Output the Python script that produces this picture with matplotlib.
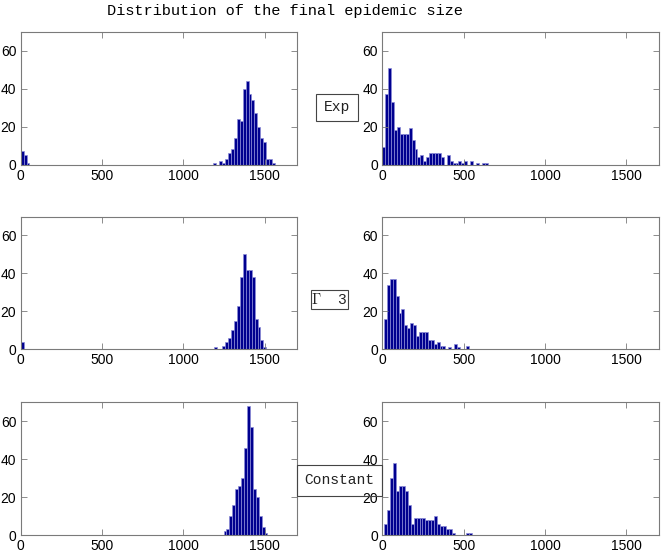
import matplotlib.pyplot as plt
import numpy as np
from matplotlib.patches import Rectangle

plt.rcParams['font.family'] = ['Liberation Sans', 'DejaVu Sans']
plt.rcParams['mathtext.fontset'] = 'cm'

# histogram counts (bin width ~18)
bin_w = 18

# Exp, left panel
exp_l_lo_x0 = 10
exp_l_lo = [7, 5, 1]
exp_l_hi_x0 = 1195
exp_l_hi = [1, 0, 2, 1, 3, 6, 8, 14, 24, 23, 40, 44, 37, 34, 27, 20, 14, 12, 3, 3, 1]
# Exp, right panel
exp_r_x0 = 9
exp_r = [9, 37, 51, 33, 18, 20, 16, 16, 16, 19, 13, 8, 4, 5, 2, 4, 6, 6, 6, 6,
         4, 0, 5, 2, 1, 1, 2, 1, 2, 0, 2, 0, 1, 0, 1, 1]

# Gamma 3, left panel
gam_l_lo_x0 = 10
gam_l_lo = [4]
gam_l_hi_x0 = 1196
gam_l_hi = [1, 0, 0, 2, 4, 6, 10, 15, 23, 38, 50, 42, 42, 38, 16, 12, 5, 1]
# Gamma 3, right panel
gam_r_x0 = 19
gam_r = [16, 34, 37, 37, 28, 19, 21, 13, 11, 14, 13, 7, 9, 9, 9, 5, 5, 3, 4, 2,
         2, 0, 1, 0, 3, 1, 0, 0, 2]

# Constant, left panel
con_l_hi_x0 = 1257
con_l_hi = [2, 3, 10, 16, 24, 26, 30, 46, 68, 57, 24, 20, 10, 4, 1]
# Constant, right panel
con_r_x0 = 22
con_r = [6, 13, 30, 38, 23, 26, 26, 23, 16, 6, 9, 9, 9, 9, 8, 8, 8, 10, 6, 5,
         5, 3, 3, 1, 0, 0, 0, 0, 1, 1]

row_labels = ['Exp', r'$\Gamma$  3', 'Constant']
x_ticks = [0, 500, 1000, 1500]
y_ticks = [0, 20, 40, 60]
title = 'Distribution of the final epidemic size'

W, H = 662, 555
fig = plt.figure(figsize=(W / 100, H / 100), dpi=100)

bar_color = '#00008f'
edge_color = '#8c8cd8'
spine_color = '#7a7a7a'


def draw_hist(ax, segments):
    for x0, counts in segments:
        counts = np.array(counts)
        centers = x0 + bin_w * np.arange(len(counts))
        keep = counts > 0
        ax.bar(centers[keep], counts[keep], width=bin_w, color=bar_color,
               edgecolor=edge_color, linewidth=0.5)
    ax.set_xlim(0, 1700)
    ax.set_ylim(0, 70)
    ax.set_xticks(x_ticks)
    ax.set_yticks(y_ticks)
    ax.tick_params(direction='in', length=4, width=0.6, top=True, right=True,
                   color=spine_color, labelsize=10, pad=3)
    for sp in ax.spines.values():
        sp.set_color(spine_color)
        sp.set_linewidth(0.8)


rows = [
    ([(exp_l_lo_x0, exp_l_lo), (exp_l_hi_x0, exp_l_hi)], [(exp_r_x0, exp_r)]),
    ([(gam_l_lo_x0, gam_l_lo), (gam_l_hi_x0, gam_l_hi)], [(gam_r_x0, gam_r)]),
    ([(con_l_hi_x0, con_l_hi)], [(con_r_x0, con_r)]),
]
bottoms = [0.7036, 0.3706, 0.036]
for (left_seg, right_seg), b in zip(rows, bottoms):
    ax_l = fig.add_axes([0.031, b, 0.4177, 0.2393])
    draw_hist(ax_l, left_seg)
    ax_r = fig.add_axes([0.5775, b, 0.4177, 0.2393])
    draw_hist(ax_r, right_seg)

# label boxes between the columns (pixel boxes: x0, y0, x1, y1)
boxes = [(316, 94, 358, 121), (311, 290, 348, 309), (297, 465, 382, 496)]
for (x0, y0, x1, y1), lab in zip(boxes, row_labels):
    fig.patches.append(Rectangle((x0 / W, 1 - y1 / H), (x1 - x0) / W, (y1 - y0) / H,
                                 transform=fig.transFigure, fill=False,
                                 edgecolor='#444444', linewidth=0.8))
    fig.text((x0 + x1) / 2 / W, 1 - (y0 + y1) / 2 / H, lab, ha='center', va='center',
             family='Liberation Mono', fontsize=10.5, color='#222222')

fig.text(285 / W, 1 - 11 / H, title, ha='center', va='center',
         family='Liberation Mono', fontsize=11)

fig.savefig('out.png', dpi=100)
